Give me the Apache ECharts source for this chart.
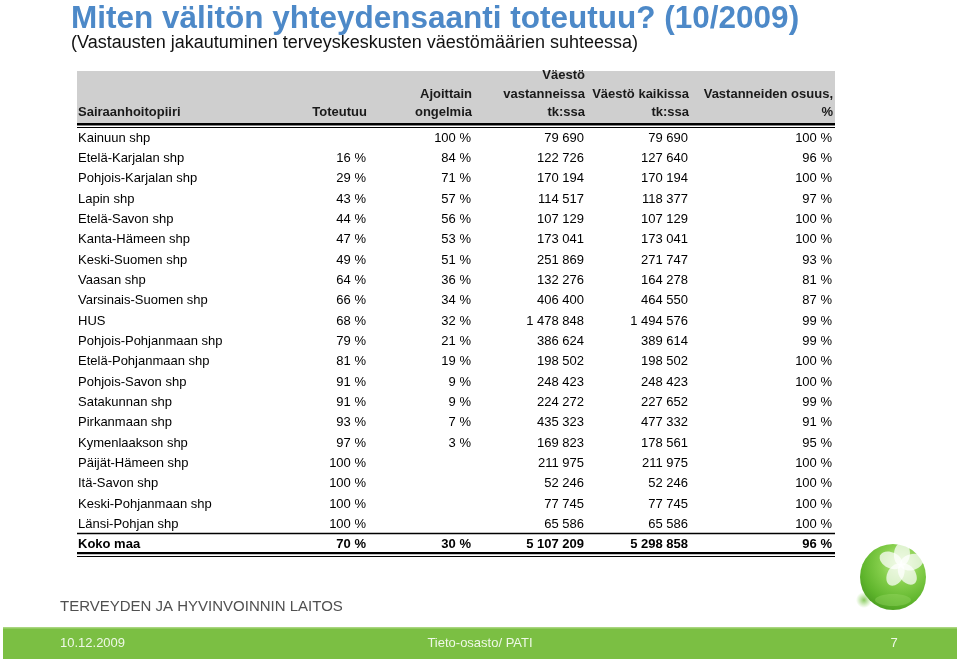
<!DOCTYPE html>
<html>
<head>
<meta charset="utf-8">
<style>
html,body{margin:0;padding:0;background:#fff;}
#chart{width:960px;height:661px;}
</style>
<script src="https://cdn.jsdelivr.net/npm/echarts@6/dist/echarts.min.js"></script>
</head>
<body>
<div id="chart"></div>
<script>
// ---- data ----
const titleText = 'Miten välitön yhteydensaanti toteutuu? (10/2009)';
const subtitleText = '(Vastausten jakautuminen terveyskeskusten väestömäärien suhteessa)';
const columnHeaders = [
  ['Sairaanhoitopiiri'],
  ['Toteutuu'],
  ['Ajoittain', 'ongelmia'],
  ['Väestö', 'vastanneissa', 'tk:ssa'],
  ['Väestö kaikissa', 'tk:ssa'],
  ['Vastanneiden osuus,', '%']
];
const categories = ['Kainuun shp','Etelä-Karjalan shp','Pohjois-Karjalan shp','Lapin shp','Etelä-Savon shp',
  'Kanta-Hämeen shp','Keski-Suomen shp','Vaasan shp','Varsinais-Suomen shp','HUS','Pohjois-Pohjanmaan shp',
  'Etelä-Pohjanmaan shp','Pohjois-Savon shp','Satakunnan shp','Pirkanmaan shp','Kymenlaakson shp',
  'Päijät-Hämeen shp','Itä-Savon shp','Keski-Pohjanmaan shp','Länsi-Pohjan shp','Koko maa'];
const toteutuu = [null,16,29,43,44,47,49,64,66,68,79,81,91,91,93,97,100,100,100,100,70];
const ajoittain = [100,84,71,57,56,53,51,36,34,32,21,19,9,9,7,3,null,null,null,null,30];
const vastanneissa = [79690,122726,170194,114517,107129,173041,251869,132276,406400,1478848,386624,198502,
  248423,224272,435323,169823,211975,52246,77745,65586,5107209];
const kaikissa = [79690,127640,170194,118377,107129,173041,271747,164278,464550,1494576,389614,198502,
  248423,227652,477332,178561,211975,52246,77745,65586,5298858];
const osuus = [100,96,100,97,100,100,93,81,87,99,99,100,100,99,91,95,100,100,100,100,96];
const orgName = 'TERVEYDEN JA HYVINVOINNIN LAITOS';
const footerDate = '10.12.2009';
const footerCenter = 'Tieto-osasto/ PATI';
const footerPage = '7';

// ---- layout ----
const GRID_LEFT = 77, GRID_W = 758, GRID_TOP = 128, GRID_H = 427;
const COL_X = [1, 289, 394, 507, 611, 755];
const FONT = '"Liberation Sans", Arial, Helvetica, sans-serif';

function fmtNum(v){ return v == null ? '' : String(v).replace(/\B(?=(\d{3})+(?!\d))/g, ' '); }
function fmtPct(v){ return v == null ? '' : v + ' %'; }

const chart = echarts.init(document.getElementById('chart'), null, {renderer:'canvas'});

const headerTexts = columnHeaders.map((lines, c) => ({
  type: 'text',
  z: 10,
  style: {
    text: lines.join('\n'),
    x: GRID_LEFT + COL_X[c] + (c === 0 ? 0 : 1),
    y: 122,
    align: c === 0 ? 'left' : 'right',
    verticalAlign: 'bottom',
    lineHeight: 18.5,
    font: 'bold 13px ' + FONT,
    fill: '#1a1a1a'
  }
}));

function hLine(y, w, color){
  return {type:'line', z: 5, shape:{x1:GRID_LEFT, y1:y, x2:GRID_LEFT+GRID_W, y2:y}, style:{stroke: color || '#000', lineWidth:w}};
}

const petalAngles = [-155, -85, -15, 55, 120];
const petals = petalAngles.map((a) => {
  const rad = a * Math.PI / 180;
  return {
    type: 'ellipse', z: 22,
    x: 901 + Math.cos(rad) * 11, y: 565 + Math.sin(rad) * 11,
    rotation: -rad,
    shape: {cx:0, cy:0, rx:12, ry:8},
    style: {fill: 'rgba(255,255,255,0.72)'}
  };
});

const option = {
  animation: false,
  backgroundColor: '#ffffff',
  title: [
    {text: titleText, left: 71, top: 3, padding: 0,
     textStyle:{fontFamily: FONT, fontSize: 31.5, fontWeight:'bold', color:'#4d89c8'}},
    {text: subtitleText, left: 71, top: 34, padding: 0,
     textStyle:{fontFamily: FONT, fontSize: 18, fontWeight:'normal', color:'#111'}}
  ],
  grid: {left: GRID_LEFT, width: GRID_W, top: GRID_TOP, height: GRID_H},
  xAxis: {type:'value', min:0, max:GRID_W, show:false},
  yAxis: {type:'category', data: categories, inverse:true, show:false},
  series: [{
    type: 'custom',
    clip: false,
    data: categories.map((c, i) => [0, i]),
    encode: {x: 0, y: 1},
    renderItem: function(params, api){
      const i = api.value(1);
      const last = i === categories.length - 1;
      const font = (last ? 'bold ' : '') + '13px ' + FONT;
      const cells = [categories[i], fmtPct(toteutuu[i]), fmtPct(ajoittain[i]),
        fmtNum(vastanneissa[i]), fmtNum(kaikissa[i]), fmtPct(osuus[i])];
      return {
        type: 'group',
        children: cells.map((t, c) => {
          const p = api.coord([COL_X[c], i]);
          return {type:'text', style:{text:t, x:p[0], y:p[1], align: c === 0 ? 'left' : 'right',
            verticalAlign:'middle', font: font, fill:'#000'}};
        })
      };
    }
  }],
  graphic: [
    {type:'rect', z:1, shape:{x:GRID_LEFT, y:71, width:GRID_W, height:52}, style:{fill:'#cfcfcf'}},
    {type:'rect', z:5, shape:{x:GRID_LEFT, y:123, width:GRID_W, height:2.4}, style:{fill:'#000'}},
    hLine(127.5, 1),
    hLine(533.5, 1.6),
    {type:'rect', z:5, shape:{x:GRID_LEFT, y:552, width:GRID_W, height:2.2}, style:{fill:'#000'}},
    hLine(556.5, 1),
    ...headerTexts,
    {type:'text', z:10, style:{text: orgName, x:60, y:607, verticalAlign:'middle', font:'15px ' + FONT, fill:'#505050'}},
    {type:'rect', z:1, shape:{x:3, y:627, width:954, height:32}, style:{fill:'#7bbf43'}},
    {type:'rect', z:2, shape:{x:3, y:627, width:954, height:1.5}, style:{fill:'#a9d67f'}},
    {type:'text', z:10, style:{text: footerDate, x:60, y:643, verticalAlign:'middle', font:'13px ' + FONT, fill:'#eef8e6'}},
    {type:'text', z:10, style:{text: footerCenter, x:480, y:643, align:'center', verticalAlign:'middle', font:'13px ' + FONT, fill:'#eef8e6'}},
    {type:'text', z:10, style:{text: footerPage, x:894, y:643, align:'center', verticalAlign:'middle', font:'13px ' + FONT, fill:'#eef8e6'}},
    // logo
    {type:'ellipse', z:20, shape:{cx:864, cy:600, rx:28, ry:8},
      style:{fill:{type:'radial', x:0.5, y:0.5, r:0.5, colorStops:[{offset:0,color:'rgba(110,190,60,0.8)'},{offset:1,color:'rgba(140,210,90,0)'}]}}},
    {type:'circle', z:21, shape:{cx:893, cy:577, r:33},
      style:{fill:{type:'radial', x:0.62, y:0.3, r:0.85, colorStops:[
        {offset:0,color:'#c9eea0'},{offset:0.35,color:'#86cf4c'},{offset:0.7,color:'#5fb52c'},{offset:1,color:'#3f901a'}]}}},
    {type:'ellipse', z:22, shape:{cx:893, cy:600, rx:18, ry:6}, style:{fill:'rgba(160,220,110,0.35)'}},
    ...petals
  ]
};
chart.setOption(option);
</script>
</body>
</html>
